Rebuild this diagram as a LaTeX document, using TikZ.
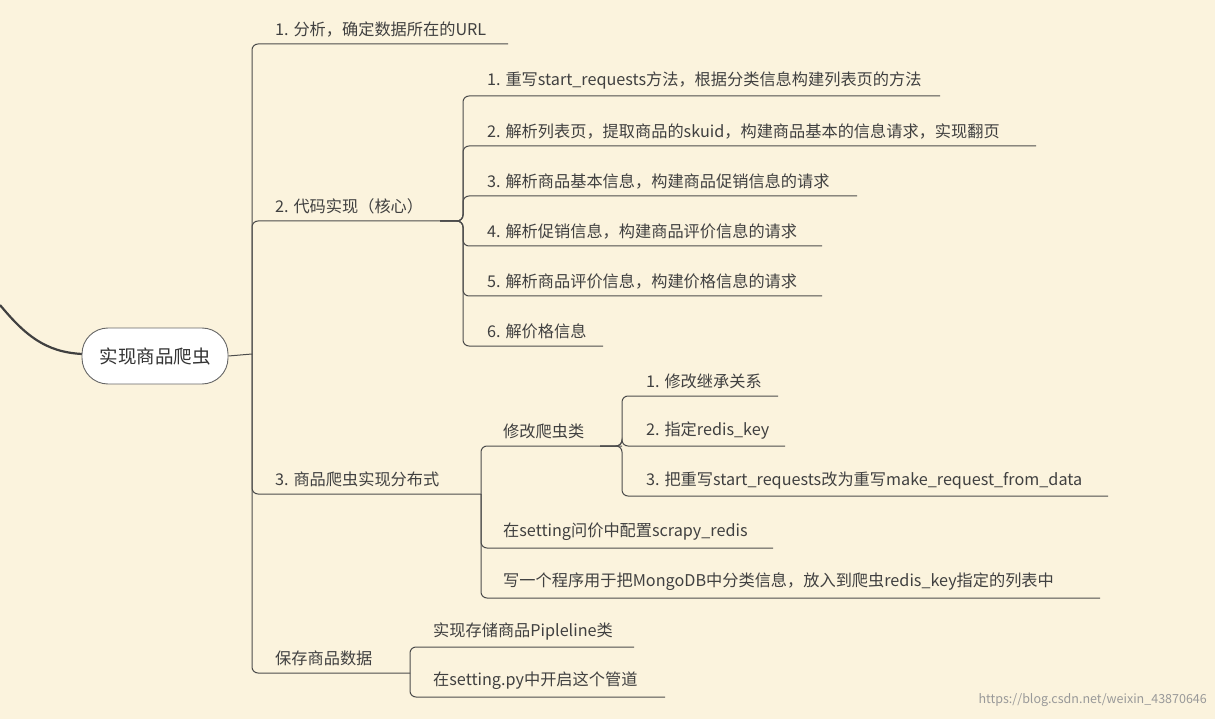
\documentclass[tikz,border=0pt]{standalone}
\usepackage{fontspec}
\setmainfont{Noto Sans CJK SC}
\begin{document}
\begin{tikzpicture}[x=1pt,y=-1pt,
  ln/.style={draw=black!70,line width=1pt,rounded corners=6pt},
  lb/.style={anchor=south west,inner sep=0pt,text=black!75,font=\fontsize{16.2}{18}\selectfont}]
\fill[fill={rgb,255:red,251;green,243;blue,221}] (0,0) rectangle (1215,719);
\useasboundingbox (0,0) rectangle (1215,719);
\draw[draw=black!75,line width=2.2pt] (0,305) .. controls (25,335) and (45,352) .. (82,354);
\node[draw=black!60,line width=0.9pt,fill=white,rounded corners=26pt,minimum width=146pt,minimum height=56pt,font=\fontsize{18.5}{20}\selectfont,text=black!80] (root) at (155,356) {实现商品爬虫};
\draw[ln] (root.east) -- (252,354);
% level 1
\foreach \y/\e in {44/508,221/440,494/481,673/410}{\draw[ln] (252,354) -- (252,\y) -- (\e,\y);}
\node[lb] (a) at (275,37) {1. 分析，确定数据所在的URL};
\node[lb] (b) at (275,214) {2. 代码实现（核心）};
\node[lb] (c) at (275,487) {3. 商品爬虫实现分布式};
\node[lb] (d) at (275,666) {保存商品数据};
% branch 2
\foreach \y/\e in {96/940,146/1036,196/857,246/822,296/822,346/603}{\draw[ln] (440,221) -- (463,221) -- (463,\y) -- (\e,\y);}
\node[lb] (b1) at (487,89) {1. 重写start\_requests方法，根据分类信息构建列表页的方法};
\node[lb] (b2) at (487,139) {2. 解析列表页，提取商品的skuid，构建商品基本的信息请求，实现翻页};
\node[lb] (b3) at (487,189) {3. 解析商品基本信息，构建商品促销信息的请求};
\node[lb] (b4) at (487,239) {4. 解析促销信息，构建商品评价信息的请求};
\node[lb] (b5) at (487,289) {5. 解析商品评价信息，构建价格信息的请求};
\node[lb] (b6) at (487,339) {6. 解价格信息};
% branch 3
\foreach \y/\e in {446/622,548/773,598/1100}{\draw[ln] (481,494) -- (481,\y) -- (\e,\y);}
\node[lb] (c1) at (503,439) {修改爬虫类};
\node[lb] (c2) at (503,541) {在setting问价中配置scrapy\_redis};
\node[lb] (c3) at (503,591) {写一个程序用于把MongoDB中分类信息，放入到爬虫redis\_key指定的列表中};
\foreach \y/\e in {396/778,446/785,496/1108}{\draw[ln] (600,446) -- (622,446) -- (622,\y) -- (\e,\y);}
\node[lb] (c11) at (646,389) {1. 修改继承关系};
\node[lb] (c12) at (646,439) {2. 指定redis\_key};
\node[lb] (c13) at (646,489) {3. 把重写start\_requests改为重写make\_request\_from\_data};
% branch 4
\foreach \y/\e in {647/634,697/665}{\draw[ln] (410,673) -- (410,\y) -- (\e,\y);}
\node[lb] (d1) at (433,640) {实现存储商品Pipleline类};
\node[lb] (d2) at (433,690) {在setting.py中开启这个管道};
\node[anchor=east,inner sep=0pt,text=black!40,font=\fontsize{12.5}{14}\selectfont] (wm) at (1207,700) {https://blog.csdn.net/weixin\_43870646};
\end{tikzpicture}
\end{document}
